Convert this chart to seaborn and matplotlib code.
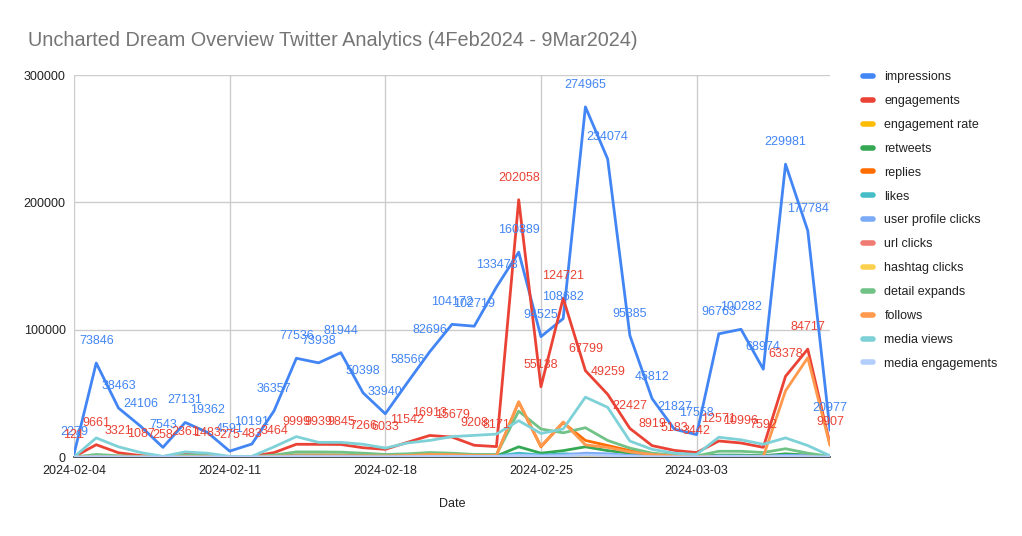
import numpy as np
import pandas as pd
import matplotlib
matplotlib.use("Agg")
import matplotlib.pyplot as plt
import matplotlib.dates as mdates
from matplotlib.lines import Line2D
import seaborn as sns

# ---------------- data ----------------
dates = pd.date_range("2024-02-04", "2024-03-09", freq="D")

impressions = [2279, 73846, 38463, 24106, 7543, 27131, 19362, 4591, 10191, 36357,
               77536, 73938, 81944, 50398, 33940, 58566, 82696, 104172, 102719, 133478,
               160889, 94525, 108682, 274965, 234074, 95385, 45812, 21827, 17558, 96763,
               100282, 68974, 229981, 177784, 20977]
engagements = [121, 9661, 3321, 1087, 258, 2361, 1483, 275, 483, 3464,
               9999, 9939, 9845, 7266, 6033, 11542, 16913, 15679, 9208, 8171,
               202058, 55138, 124721, 67799, 49259, 22427, 8919, 5183, 3442, 12571,
               10996, 7592, 63378, 84717, 9907]
engagement_rate = [0.05, 0.13, 0.09, 0.05, 0.03, 0.09, 0.08, 0.06, 0.05, 0.1,
                   0.13, 0.13, 0.12, 0.14, 0.18, 0.2, 0.2, 0.15, 0.09, 0.06,
                   1.26, 0.58, 1.15, 0.25, 0.21, 0.24, 0.19, 0.24, 0.2, 0.13,
                   0.11, 0.11, 0.28, 0.48, 0.47]
retweets = [0, 500, 300, 100, 50, 300, 200, 50, 50, 500,
            1500, 1500, 1400, 1000, 800, 1000, 1500, 1300, 800, 800,
            8000, 3000, 5000, 8000, 5000, 3000, 1500, 600, 300, 1500,
            1500, 1000, 2500, 1500, 300]
replies = [0, 300, 200, 100, 50, 300, 200, 50, 50, 800,
           1500, 1500, 1500, 1200, 1000, 1500, 2500, 2200, 1500, 1500,
           43000, 8000, 27000, 13000, 9000, 5000, 2500, 1000, 500, 600,
           600, 500, 1000, 1200, 300]
likes = [0, 800, 400, 200, 50, 300, 200, 50, 50, 600,
         1200, 1100, 1100, 900, 700, 900, 1200, 1100, 900, 800,
         3000, 1500, 2500, 2000, 1500, 1000, 500, 300, 200, 900,
         800, 600, 1200, 1000, 200]
user_profile_clicks = [0, 200, 100, 50, 20, 100, 80, 20, 20, 200,
                       400, 400, 400, 300, 250, 400, 600, 500, 400, 400,
                       1500, 1000, 1500, 3000, 2500, 1200, 600, 300, 200, 600,
                       600, 500, 1200, 900, 200]
url_clicks = [0, 100, 50, 20, 10, 50, 40, 10, 10, 80,
              150, 150, 150, 120, 100, 150, 200, 180, 150, 120,
              600, 300, 500, 400, 300, 200, 100, 60, 40, 150,
              150, 100, 300, 250, 60]
hashtag_clicks = [0, 10, 5, 2, 1, 5, 4, 1, 1, 8,
                  15, 15, 15, 12, 10, 15, 20, 18, 15, 12,
                  60, 30, 50, 40, 30, 20, 10, 6, 4, 15,
                  15, 10, 30, 25, 6]
detail_expands = [0, 2000, 1000, 300, 100, 1500, 1000, 200, 200, 1500,
                  4000, 4000, 3800, 3000, 2000, 2500, 3500, 3000, 2000, 2000,
                  36000, 22000, 19000, 23000, 13000, 7000, 3000, 1500, 800, 4500,
                  4500, 3500, 6500, 3000, 500]
follows = [0, 200, 100, 50, 20, 200, 100, 20, 20, 500,
           1000, 1000, 1000, 900, 800, 1200, 2000, 1800, 1200, 1200,
           43500, 8500, 27500, 9500, 7500, 4000, 2000, 800, 400, 400,
           400, 300, 52000, 78000, 9000]
media_views = [0, 15000, 8000, 3500, 500, 4000, 3000, 500, 500, 8000,
               16000, 11500, 11500, 10000, 7000, 11000, 13000, 16000, 17000, 18000,
               28500, 18500, 22000, 47000, 39000, 12500, 6000, 3000, 2000, 15500,
               13500, 10000, 15000, 9000, 1000]
media_engagements = [0, 300, 150, 60, 20, 100, 80, 20, 20, 200,
                     400, 350, 350, 300, 250, 350, 450, 500, 500, 500,
                     1200, 700, 900, 1500, 1200, 500, 250, 120, 80, 500,
                     450, 350, 500, 350, 50]

series_names = ["impressions", "engagements", "engagement rate", "retweets", "replies",
                "likes", "user profile clicks", "url clicks", "hashtag clicks",
                "detail expands", "follows", "media views", "media engagements"]
series_values = [impressions, engagements, engagement_rate, retweets, replies, likes,
                 user_profile_clicks, url_clicks, hashtag_clicks, detail_expands,
                 follows, media_views, media_engagements]
colors = ["#4285F4", "#EA4335", "#FBBC04", "#34A853", "#FF6D01", "#46BDC6", "#7BAAF7",
          "#F07B72", "#FCD04F", "#71C287", "#FF994D", "#7ED1D7", "#B3CEFB"]

title = "Uncharted Dream Overview Twitter Analytics (4Feb2024 - 9Mar2024)"
y_ticks = [0, 100000, 200000, 300000]

# ---------------- build long-form table ----------------
frames = []
for name, vals in zip(series_names, series_values):
    frames.append(pd.DataFrame({"Date": dates, "value": vals, "series": name}))
df = pd.concat(frames, ignore_index=True)

sns.set_style("white")
plt.rcParams["font.family"] = ["Liberation Sans", "DejaVu Sans"]

fig = plt.figure(figsize=(10.22, 5.36), dpi=100)
ax = fig.add_axes([74 / 1022, 1 - 457 / 536, (830 - 74) / 1022, (457 - 75) / 536])

palette = dict(zip(series_names, colors))
sns.lineplot(data=df, x="Date", y="value", hue="series", hue_order=series_names,
             palette=palette, linewidth=2, legend=False, ax=ax, zorder=3)

# data labels for impressions and engagements
for vals, col in [(impressions, colors[0]), (engagements, colors[1])]:
    for d, v in zip(dates, vals):
        ax.annotate(str(v), xy=(d, v), xytext=(0, 22), textcoords="offset pixels",
                    ha="center", va="center", fontsize=9, color=col, zorder=5)

ax.set_xlim(dates[0], dates[-1])
ax.set_ylim(0, 300000)
ax.set_yticks(y_ticks)
ax.set_yticklabels([str(t) for t in y_ticks])
ax.set_xticks(dates[::7])
ax.xaxis.set_major_formatter(mdates.DateFormatter("%Y-%m-%d"))

ax.grid(True, color="#CCCCCC", linewidth=1)
ax.set_axisbelow(True)
for s in ["top", "right", "left"]:
    ax.spines[s].set_visible(False)
ax.spines["bottom"].set_color("#333333")
ax.spines["bottom"].set_linewidth(1.2)
ax.tick_params(axis="both", length=0, labelsize=9, colors="#222222", pad=6)
ax.set_xlabel("Date", fontsize=9, color="#222222", labelpad=15)
ax.set_ylabel("")

fig.text(28 / 1022, 1 - 40 / 536, title, fontsize=14.3, color="#757575",
         ha="left", va="center")

handles = [Line2D([0], [0], color=c, linewidth=4) for c in colors]
fig.legend(handles, series_names, loc="upper left",
           bbox_to_anchor=(852 / 1022, 1 - 60 / 536), frameon=False,
           fontsize=9, handlelength=0.8, handletextpad=0.9, labelspacing=0.95,
           labelcolor="#222222")

fig.savefig("out.png", dpi=100)
